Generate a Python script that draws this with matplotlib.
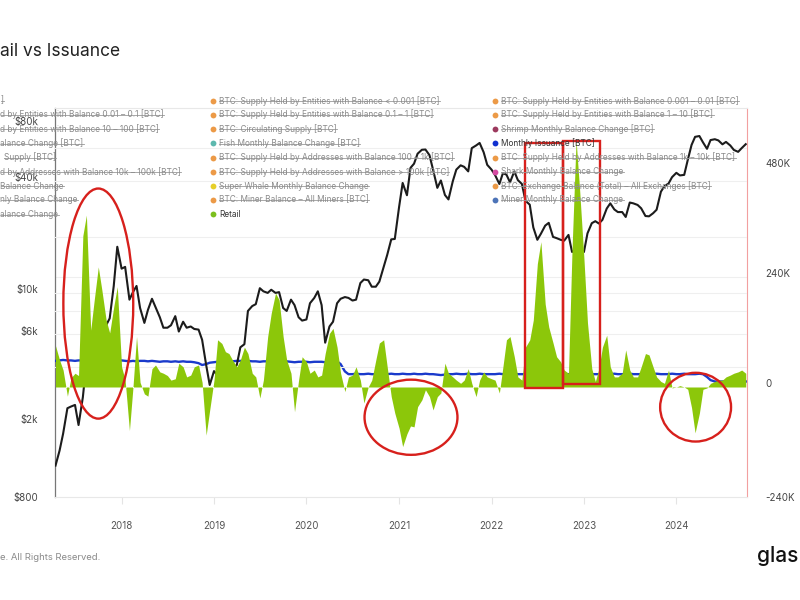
import pandas as pd
import matplotlib
matplotlib.use('Agg')
import matplotlib.pyplot as plt
import matplotlib.dates as mdates
from matplotlib.patches import Ellipse, Rectangle
from matplotlib.lines import Line2D
from matplotlib.ticker import NullLocator
from matplotlib.transforms import ScaledTranslation

plt.rcParams['font.family'] = ['Inter', 'DejaVu Sans']

# semi-monthly samples (1st and 15th), 2017-04-15 .. 2024-10-01
# BTC price [USD]
price_2017 = [1180, 1420, 1750, 2400, 2450, 2500, 1950, 2750, 4200, 4700, 3700, 4400, 5700, 6700, 7300, 10900, 17700]
price_2018 = [13500, 13800, 9200, 10100, 10900, 8300, 6900, 8100, 9300, 8400, 7400, 6500, 6500, 6700, 7500, 6200,
              7000, 6500, 6600, 6400, 6350, 5600, 4100, 3200]
price_2019 = [3800, 3600, 3450, 3600, 3800, 3900, 4100, 5100, 5300, 8000, 8500, 8700, 10600, 10200, 10000, 10400,
              10000, 10100, 8300, 8000, 9200, 8600, 7400, 7100]
price_2020 = [7200, 8800, 9400, 10200, 8600, 5400, 6600, 7000, 8800, 9300, 9500, 9400, 9100, 9200, 11300, 11800,
              11700, 10800, 10800, 11500, 13800, 16000, 19400, 19500]
price_2021 = [29000, 39000, 33500, 47000, 49500, 56000, 58800, 59000, 55000, 46000, 36700, 40200, 33600, 31800,
              39800, 46000, 48500, 47600, 45000, 60000, 62000, 64000, 57000, 48800]
price_2022 = [46000, 43000, 38500, 44000, 43200, 39300, 45000, 40400, 38500, 31300, 29800, 22500, 19300, 20800,
              23000, 23800, 20000, 19700, 19300, 19100, 20500, 16600, 17000, 17300]
price_2023 = [16600, 20900, 23700, 24300, 23600, 24700, 28400, 30300, 28100, 27200, 27200, 25600, 30600, 30300,
              29700, 28500, 25900, 25800, 26800, 28000, 35000, 37500, 38700, 41900]
price_2024 = [44200, 42800, 43100, 51800, 62400, 69000, 69700, 64500, 59500, 66300, 67000, 66000, 62900, 64800,
              62000, 58700, 57300, 60000, 63000]

# Retail monthly balance change [K BTC]
retail_2017 = [90, 59, 37, -20, 20, 30, 25, 330, 375, 124, 190, 262, 212, 146, 118, 175, 219]
retail_2018 = [44, 15, -95, 0, 110, 10, -15, -20, 40, 48, 33, 30, 25, 15, 18, 52, 44, 22, 26, 44, 48, 10, -105, -50]
retail_2019 = [15, 103, 95, 77, 73, 59, 44, 59, 87, 73, 30, 22, -24, 15, 110, 161, 205, 190, 110, 59, 30, -54, 15, 66]
retail_2020 = [55, 30, 37, 22, 26, 73, 117, 128, 87, 30, -10, 22, 26, 44, 15, -35, 0, 15, 59, 96, 103, 44, -21, -57]
retail_2021 = [-90, -130, -102, -85, -87, -43, -28, -6, -21, -50, -21, -13, 52, 30, 22, 15, 8, 15, 40, 8, -21, 15,
               33, 22]
retail_2022 = [18, 15, -13, 44, 103, 110, 66, 22, 15, 87, 103, 146, 269, 317, 181, 131, 96, 66, 55, 37, 30, 300,
               539, 430]
retail_2023 = [280, 140, 40, 12, 40, 87, 113, 44, 22, 22, 30, 81, 37, 22, 22, 44, 73, 70, 44, 22, 12, 8, 37, -2]
retail_2024 = [0, 3, 0, -5, -45, -100, -57, -5, -2, 8, 12, 15, 15, 22, 26, 30, 33, 37, 30]

# Monthly issuance [K BTC]
issuance_2017 = [57, 58, 59, 58, 58, 57, 58, 58, 59, 58, 57, 57, 58, 58, 59, 59, 58]
issuance_2018 = [58, 57, 56, 57, 56, 57, 57, 56, 57, 56, 55, 56, 56, 55, 56, 55, 56, 55, 55, 54, 52, 48, 50, 53]
issuance_2019 = [54, 55, 55, 56, 56, 56, 57, 57, 56, 57, 56, 56, 55, 56, 56, 55, 56, 55, 55, 56, 55, 54, 55, 55]
issuance_2020 = [55, 54, 55, 55, 55, 54, 53, 54, 56, 50, 34, 28, 28, 29, 28, 28, 29, 28, 28, 29, 28, 28, 29, 28]
issuance_2021 = [28, 29, 28, 28, 29, 28, 28, 29, 28, 28, 27, 26, 27, 28, 28, 29, 28, 28, 29, 28, 28, 29, 28, 28]
issuance_2022 = [28, 28, 29, 28, 28, 28, 29, 28, 28, 28, 29, 28, 28, 28, 29, 28, 28, 29, 28, 28, 28, 29, 28, 28]
issuance_2023 = [28, 29, 28, 28, 28, 29, 28, 28, 29, 28, 28, 28, 29, 28, 28, 28, 29, 28, 28, 29, 28, 28, 28, 29]
issuance_2024 = [28, 28, 29, 28, 28, 28, 29, 28, 22, 15, 12, 12, 12, 12, 12, 12, 12, 12, 12]

price = price_2017 + price_2018 + price_2019 + price_2020 + price_2021 + price_2022 + price_2023 + price_2024
retail = retail_2017 + retail_2018 + retail_2019 + retail_2020 + retail_2021 + retail_2022 + retail_2023 + retail_2024
issuance = (issuance_2017 + issuance_2018 + issuance_2019 + issuance_2020 + issuance_2021 + issuance_2022
            + issuance_2023 + issuance_2024)
dates = pd.date_range('2017-04-15', '2024-10-01', freq='SMS')

# axis ticks
price_ticks = [800, 2000, 6000, 10000, 40000, 80000]
price_tick_labels = ['$800', '$2k', '$6k', '$10k', '$40k', '$80k']
price_grid = [4000, 6000, 8000, 10000, 20000, 40000, 60000]
btc_ticks = [-240, 0, 240, 480]
btc_tick_labels = ['-240K', '0', '240K', '480K']

# legend (strike = series switched off)
orange = '#ec9a47'
legend_col1 = [']', 'd by Entities with Balance 0.01 – 0.1 [BTC]', 'd by Entities with Balance 10 – 100 [BTC]',
               'alance Change [BTC]', 'Supply [BTC]', 'd by Addresses with Balance 10k – 100k [BTC]',
               'Balance Change', 'nly Balance Change', 'alance Change']
legend_col2 = ['BTC: Supply Held by Entities with Balance < 0.001 [BTC]',
               'BTC: Supply Held by Entities with Balance 0.1 – 1 [BTC]',
               'BTC: Circulating Supply [BTC]', 'Fish Monthly Balance Change [BTC]',
               'BTC: Supply Held by Addresses with Balance 100 – 1k [BTC]',
               'BTC: Supply Held by Addresses with Balance > 100k [BTC]',
               'Super Whale Monthly Balance Change', 'BTC: Miner Balance – All Miners [BTC]', 'Retail']
colors_col2 = [orange, orange, orange, '#5db8ae', orange, orange, '#e6cf2a', orange, '#7cbf1e']
legend_col3 = ['BTC: Supply Held by Entities with Balance 0.001 – 0.01 [BTC]',
               'BTC: Supply Held by Entities with Balance 1 – 10 [BTC]',
               'Shrimp Monthly Balance Change [BTC]', 'Monthly Issuance [BTC]',
               'BTC: Supply Held by Addresses with Balance 1k – 10k [BTC]', 'Shark Monthly Balance Change',
               'BTC: Exchange Balance (Total) – All Exchanges [BTC]', 'Miner Monthly Balance Change']
colors_col3 = [orange, orange, '#9c3a5e', '#1030d0', orange, '#d54aa2', orange, '#4d74b8']
active = ['Retail', 'Monthly Issuance [BTC]']

W, H = 800, 600


def fx(px):
    return px / W


def fy(py):
    return 1 - py / H


fig = plt.figure(figsize=(8, 6), dpi=100)
rect = [fx(55), fy(497), 692 / W, 389 / H]
lift = ScaledTranslation(0, 0.035, fig.dpi_scale_trans)

# three stacked axes so the retail area sits above the price line
ax_b = fig.add_axes(rect)
ax_p = fig.add_axes(rect, sharex=ax_b)
ax_g = fig.add_axes(rect, sharex=ax_b, sharey=ax_b)
for a in (ax_p, ax_g):
    a.patch.set_visible(False)
    for s in a.spines.values():
        s.set_visible(False)

# issuance (bottom layer)
ax_b.plot(dates, issuance, color='#1a3acb', lw=1.7, zorder=3)
ax_b.set_ylim(-240, 608.7)
ax_b.axhline(240, color='#efefef', lw=0.8, zorder=0)
ax_b.tick_params(axis='y', left=False, labelleft=False)
ax_b.set_xlim(pd.Timestamp('2017-04-13'), pd.Timestamp('2024-10-06'))
ax_b.xaxis.set_major_locator(mdates.YearLocator())
ax_b.xaxis.set_major_formatter(mdates.DateFormatter('%Y'))
ax_b.tick_params(axis='x', length=5, color='#e4e4e4', labelsize=7, labelcolor='#555', pad=12)
ax_b.spines['left'].set_color('#777')
ax_b.spines['left'].set_linewidth(0.9)
ax_b.spines['right'].set_color('#f2a0a0')
ax_b.spines['top'].set_color('#e8e8e8')
ax_b.spines['bottom'].set_color('#e8e8e8')

# price (middle layer, log)
ax_p.plot(dates, price, color='#1c1c1c', lw=1.5, zorder=3)
ax_p.set_yscale('log')
ax_p.set_ylim(800, 98600)
for g in price_grid:
    ax_p.axhline(g, color='#efefef', lw=0.8, zorder=0)
ax_p.set_yticks(price_ticks)
ax_p.set_yticklabels(price_tick_labels)
ax_p.yaxis.set_minor_locator(NullLocator())
ax_p.tick_params(axis='y', length=0, labelsize=7, labelcolor='#444', pad=12)
ax_p.tick_params(axis='x', bottom=False, labelbottom=False)

# retail (top layer)
ax_g.fill_between(dates, 0, retail, color='#8cc70a', lw=0, zorder=2)
ax_g.yaxis.tick_right()
ax_g.set_yticks(btc_ticks)
ax_g.set_yticklabels(btc_tick_labels)
ax_g.tick_params(axis='y', length=0, labelsize=7, labelcolor='#444', pad=13)
ax_g.tick_params(axis='x', bottom=False, labelbottom=False)

for lab in ax_p.get_yticklabels()[1:] + ax_g.get_yticklabels()[1:]:
    lab.set_transform(lab.get_transform() + lift)

# red highlight marks
red = '#d7201c'


def d(s):
    return mdates.date2num(pd.Timestamp(s))


ax_g.add_patch(Ellipse((d('2017-10-01'), 182), 276, 502, fill=False, ec=red, lw=1.7, zorder=6))
ax_g.add_patch(Ellipse((d('2021-02-17'), -66), 367, 164, fill=False, ec=red, lw=1.7, zorder=6))
ax_g.add_patch(Ellipse((d('2024-03-17'), -44), 280, 150, fill=False, ec=red, lw=1.7, zorder=6))
ax_g.add_patch(Rectangle((d('2022-05-13'), -3), d('2022-10-09') - d('2022-05-13'), 535,
                         fill=False, ec=red, lw=1.7, zorder=6))
ax_g.add_patch(Rectangle((d('2022-10-09'), 6), d('2023-03-05') - d('2022-10-09'), 531,
                         fill=False, ec=red, lw=1.7, zorder=6))

# title, footer
fig.text(fx(0), fy(52), 'ail vs Issuance', fontsize=12.5, color='#222', va='center', ha='left')
fig.text(fx(0), fy(558), 'e. All Rights Reserved.', fontsize=6.8, color='#8a8a8a', va='center', ha='left')
fig.text(fx(757), fy(556), 'glas', fontsize=15, color='#111', va='center', ha='left', fontweight='medium')

# legend
rows = [100.7, 114.5, 129, 143.3, 157.5, 171.7, 186, 200, 214.3]
fs_leg = 5.95
struck = []
for i, lab in enumerate(legend_col1):
    x0 = 4 if lab.startswith('Supply') else 0.5
    t = fig.text(fx(x0), fy(rows[i]), lab, fontsize=fs_leg, color='#8a8a8a', va='center', ha='left')
    struck.append(t)
for col, cols, xm in ((legend_col2, colors_col2, 212.5), (legend_col3, colors_col3, 495)):
    for i, lab in enumerate(col):
        fig.add_artist(Line2D([fx(xm)], [fy(rows[i])], marker='o', ms=4.2, color=cols[i], mec='none',
                              transform=fig.transFigure))
        on = lab in active
        t = fig.text(fx(xm + 6.5), fy(rows[i]), lab, fontsize=fs_leg, color='#333' if on else '#8a8a8a',
                     va='center', ha='left')
        if not on:
            struck.append(t)

fig.canvas.draw()
r = fig.canvas.get_renderer()
inv = fig.transFigure.inverted()
for t in struck:
    bb = t.get_window_extent(r)
    ym = bb.y0 + bb.height * 0.47
    (x0, y0), (x1, _) = inv.transform([(bb.x0, ym), (bb.x1, ym)])
    fig.add_artist(Line2D([x0, x1], [y0, y0], color='#9a9a9a', lw=0.6, transform=fig.transFigure))

fig.savefig('out.png', dpi=100)
